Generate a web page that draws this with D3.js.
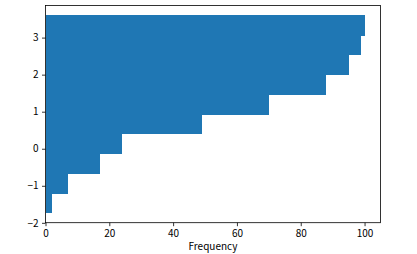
<html>
  <head>
    <meta charset="utf-8">
    <style>
      body { margin: 0; background: #fff; }
      text { font-family: "Noto Sans CJK SC", "DejaVu Sans", sans-serif; }
    </style>
  </head>
  <body>
    <div id="vis"></div>
    <script src="https://cdn.jsdelivr.net/npm/d3@7"></script>
    <script>
      // bin edges (value axis) and counts per bin, cumulative drawn
      const binEdges = [-1.73, -1.197, -0.664, -0.131, 0.402, 0.935, 1.468, 2.001, 2.534, 3.067, 3.60]
      const counts = [2, 5, 10, 7, 25, 21, 18, 7, 4, 1]
      const xTicks = [0, 20, 40, 60, 80, 100]
      const yTicks = [-2, -1, 0, 1, 2, 3]
      const xLabel = 'Frequency'

      const cum = Array.from(d3.cumsum(counts))
      const bins = counts.map((c, i) => ({lo: binEdges[i], hi: binEdges[i + 1], v: cum[i]}))

      const width = 417, height = 254
      const m = {left: 45.5, right: 380.5, top: 5.5, bottom: 222.7}

      const x = d3.scaleLinear().domain([0, 105]).range([m.left, m.right])
      const pad = (binEdges[binEdges.length - 1] - binEdges[0]) * 0.05
      const y = d3.scaleLinear()
              .domain([binEdges[0] - pad, binEdges[binEdges.length - 1] + pad])
              .range([m.bottom, m.top])

      const svg = d3.select('#vis').append('svg').attr('width', width).attr('height', height)

      svg.append('g')
              .attr('shape-rendering', 'crispEdges')
              .selectAll('rect')
              .data(bins)
              .join('rect')
              .attr('x', x(0))
              .attr('y', d => y(d.hi))
              .attr('width', d => x(d.v) - x(0))
              .attr('height', d => y(d.lo) - y(d.hi) + 0.5)
              .attr('fill', '#1f77b4')

      const fmt = d3.format('d')
      const xAxis = svg.append('g')
              .attr('transform', 'translate(0,' + m.bottom + ')')
              .call(d3.axisBottom(x).tickValues(xTicks).tickFormat(fmt).tickSizeOuter(0).tickSize(3.5).tickPadding(3.5))
      const yAxis = svg.append('g')
              .attr('transform', 'translate(' + m.left + ',0)')
              .call(d3.axisLeft(y).tickValues(yTicks).tickFormat(fmt).tickSizeOuter(0).tickSize(3.5).tickPadding(3.5))

      for (const ax of [xAxis, yAxis]) {
        ax.select('.domain').remove()
        ax.selectAll('line').attr('stroke', '#000').attr('stroke-width', 0.8)
        ax.selectAll('text').attr('font-size', 10).attr('fill', '#000')
                .style('font-family', '"Noto Sans CJK SC", "DejaVu Sans", sans-serif')
      }

      // frame
      svg.append('rect')
              .attr('x', m.left).attr('y', m.top)
              .attr('width', m.right - m.left).attr('height', m.bottom - m.top)
              .attr('fill', 'none').attr('stroke', '#000').attr('stroke-width', 0.8)

      svg.append('text')
              .attr('x', (m.left + m.right) / 2)
              .attr('y', 249.5)
              .attr('text-anchor', 'middle')
              .attr('font-size', 10)
              .text(xLabel)
    </script>
  </body>
</html>
